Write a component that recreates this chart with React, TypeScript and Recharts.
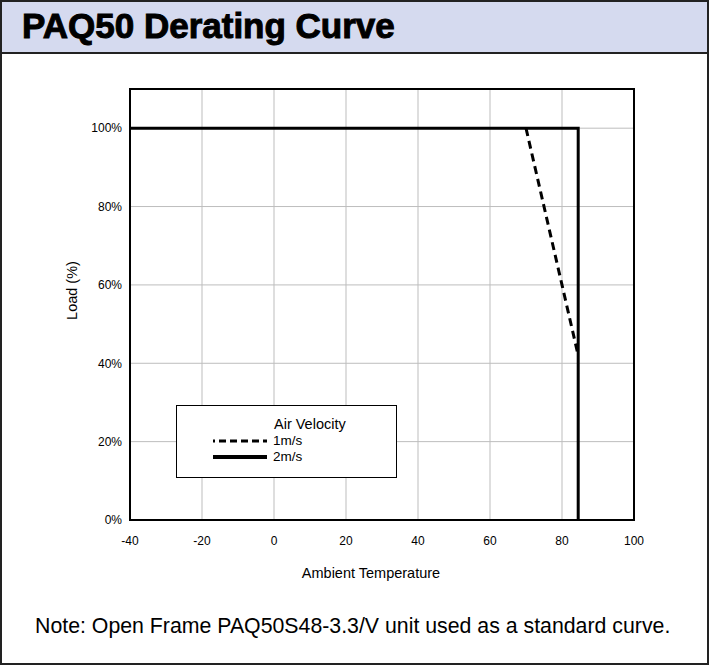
import React from 'react';
import { LineChart, Line, XAxis, YAxis, CartesianGrid, ReferenceArea, Legend } from 'recharts';

// axis ticks
const tempTicks = [-40, -20, 0, 20, 40, 60, 80, 100];
const loadTicks = [0, 20, 40, 60, 80, 100];

// 1 m/s curve (dashed)
const temps1ms = [70, 80, 84.5];
const loads1ms = [100, 60, 42];

// 2 m/s curve (solid)
const temps2ms = [-40, 84.5, 84.5];
const loads2ms = [100, 100, 0];

const seriesNames = ['1m/s', '2m/s'];

const toPoints = (temps: number[], loads: number[]) =>
  temps.map((t, i) => ({ temp: t, load: loads[i] }));

const data1ms = toPoints(temps1ms, loads1ms);
const data2ms = toPoints(temps2ms, loads2ms);

const font = '"Liberation Sans", Arial, sans-serif';

const LegendBox = () => (
  <div
    style={{
      width: 219,
      height: 71,
      border: '1px solid #000',
      background: '#fff',
      position: 'relative',
      fontFamily: font,
      fontSize: 13.5,
      color: '#000',
    }}
  >
    <div style={{ position: 'absolute', left: 97, top: 10, fontSize: 14.5 }}>Air Velocity</div>
    {seriesNames.map((name, i) => (
      <div key={name} style={{ position: 'absolute', left: 36, top: 27 + i * 16, height: 15, display: 'flex', alignItems: 'center' }}>
        <svg width={56} height={8}>
          <line
            x1={0}
            x2={54}
            y1={4}
            y2={4}
            stroke="#000"
            strokeWidth={i === 0 ? 3 : 4}
            strokeDasharray={i === 0 ? '7 4' : undefined}
            strokeDashoffset={i === 0 ? 5 : undefined}
          />
        </svg>
        <span style={{ marginLeft: 4 }}>{name}</span>
      </div>
    ))}
  </div>
);

const YLabel = (props: any) => {
  const { viewBox } = props;
  const x = viewBox.x + 2;
  const y = viewBox.y + viewBox.height / 2 - 14;
  return (
    <text x={x} y={y} transform={`rotate(-90 ${x} ${y})`} textAnchor="middle" dominantBaseline="central" fontSize={14.5} fontFamily={font} fill="#000">
      Load (%)
    </text>
  );
};

const XLabel = (props: any) => {
  const { viewBox } = props;
  const x = viewBox.x + viewBox.width / 2 - 11;
  const y = viewBox.y + 53;
  return (
    <text x={x} y={y} textAnchor="middle" dominantBaseline="central" fontSize={14.5} fontFamily={font} fill="#000">
      Ambient Temperature
    </text>
  );
};

const App: React.FC = () => {
  return (
    <div
      style={{
        position: 'absolute',
        left: 0,
        top: 0,
        width: 709,
        height: 665,
        boxSizing: 'border-box',
        border: '2px solid #222',
        background: '#fff',
        overflow: 'hidden',
      }}
    >
      <div
        style={{
          position: 'absolute',
          left: 0,
          top: 0,
          width: 705,
          height: 52,
          background: '#d5daef',
          borderBottom: '2px solid #222',
          boxSizing: 'border-box',
        }}
      >
        <div
          style={{
            position: 'absolute',
            left: 20,
            top: 4,
            fontFamily: font,
            fontWeight: 900,
            fontSize: 35,
            WebkitTextStroke: '1px #000',
            color: '#000',
            whiteSpace: 'nowrap',
          }}
        >
          PAQ50 Derating Curve
        </div>
      </div>
      <div style={{ position: 'absolute', left: -2, top: -2 }}>
        <LineChart width={709} height={665} margin={{ top: 89, right: 75, bottom: 115, left: 70 }}>
          <CartesianGrid stroke="#bdbdbd" strokeWidth={1} />
          <XAxis
            dataKey="temp"
            type="number"
            domain={[-40, 100]}
            ticks={tempTicks}
            allowDataOverflow
            axisLine={false}
            tickLine={false}
            tickMargin={10}
            tick={{ fontSize: 12, fontFamily: font, fill: '#000' }}
            label={<XLabel />}
          />
          <YAxis
            type="number"
            domain={[0, 110]}
            ticks={loadTicks}
            allowDataOverflow
            width={60}
            axisLine={false}
            tickLine={false}
            tickMargin={2}
            tickFormatter={(v: number) => `${v}%`}
            tick={{ fontSize: 12, fontFamily: font, fill: '#000' }}
            label={<YLabel />}
          />
          <ReferenceArea x1={-40} x2={100} y1={0} y2={110} fill="none" stroke="#000" strokeWidth={2} />
          <Line
            data={data2ms}
            dataKey="load"
            name={seriesNames[1]}
            type="linear"
            stroke="#000"
            strokeWidth={3}
            dot={false}
            isAnimationActive={false}
          />
          <Line
            data={data1ms}
            dataKey="load"
            name={seriesNames[0]}
            type="linear"
            stroke="#000"
            strokeWidth={3}
            strokeDasharray="8 5"
            dot={false}
            isAnimationActive={false}
          />
          <Legend
            layout="vertical"
            align="center"
            verticalAlign="middle"
            content={() => <LegendBox />}
            wrapperStyle={{ left: 176, top: 405, width: 221, height: 73 }}
          />
        </LineChart>
      </div>
      <div
        style={{
          position: 'absolute',
          left: 33,
          top: 612,
          fontFamily: font,
          fontSize: 21.3,
          color: '#000',
          whiteSpace: 'nowrap',
        }}
      >
        Note: Open Frame PAQ50S48-3.3/V unit used as a standard curve.
      </div>
    </div>
  );
};

export default App;
